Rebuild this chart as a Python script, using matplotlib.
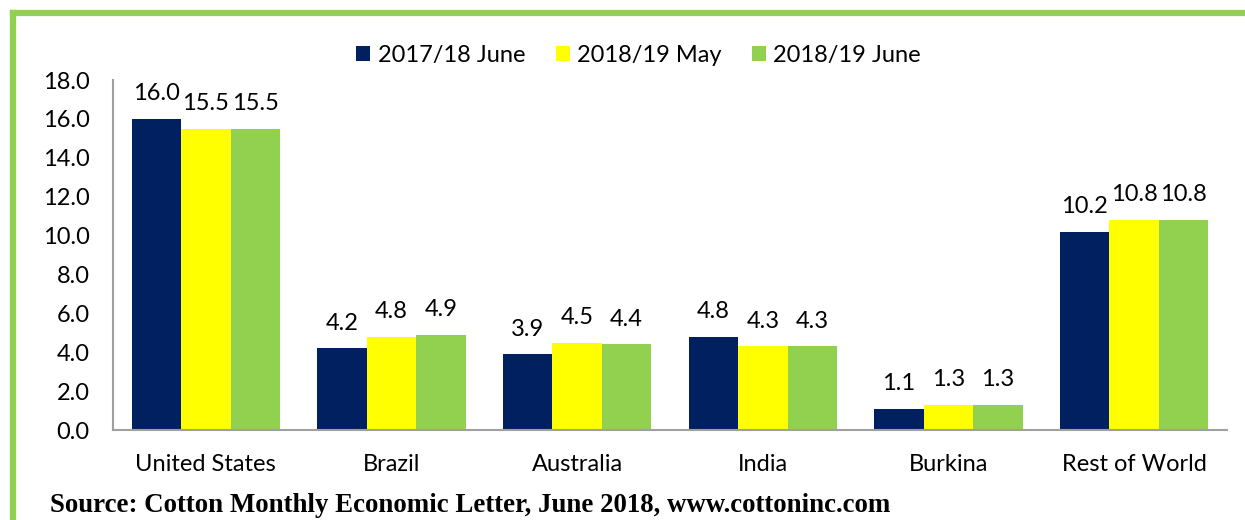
import matplotlib
matplotlib.use("Agg")
import matplotlib.pyplot as plt
import numpy as np
from matplotlib.lines import Line2D

categories = ["United States", "Brazil", "Australia", "India", "Burkina", "Rest of World"]
series_names = ["2017/18 June", "2018/19 May", "2018/19 June"]
v_1718_june = [16.0, 4.2, 3.9, 4.8, 1.1, 10.2]
v_1819_may = [15.5, 4.8, 4.5, 4.3, 1.3, 10.8]
v_1819_june = [15.5, 4.9, 4.4, 4.3, 1.3, 10.8]
yticks = [0, 2, 4, 6, 8, 10, 12, 14, 16, 18]
colors = ["#002060", "#FFFF00", "#92D050"]

plt.rcParams['font.family'] = ['Lato', 'DejaVu Sans']

fig = plt.figure(figsize=(12.45, 5.2), dpi=100)
ax = fig.add_axes([0.0908, 0.173, 0.8947, 0.673])

x = np.arange(len(categories))
w = 0.8 / 3
data = [v_1718_june, v_1819_may, v_1819_june]
for i, (vals, c, name) in enumerate(zip(data, colors, series_names)):
    bars = ax.bar(x + (i - 1) * w, vals, w, color=c, label=name, zorder=2)
    for b, v in zip(bars, vals):
        ax.text(b.get_x() + b.get_width() / 2, v + 0.75, f"{v:.1f}",
                ha="center", va="bottom", fontsize=17, color="black")

ax.set_xlim(-0.5, len(categories) - 0.5)
ax.set_ylim(0, 18)
ax.set_yticks(yticks)
ax.set_yticklabels([f"{t:.1f}" for t in yticks], fontsize=17)
ax.set_xticks(x)
ax.set_xticklabels(categories, fontsize=17)
ax.tick_params(axis="both", length=0)
ax.tick_params(axis="x", pad=17)
ax.tick_params(axis="y", pad=17)
for s in ["top", "right"]:
    ax.spines[s].set_visible(False)
for s in ["left", "bottom"]:
    ax.spines[s].set_color("#A0A0A0")
    ax.spines[s].set_linewidth(1.5)

ax.legend(loc="center", bbox_to_anchor=(0.513, 0.894), bbox_transform=fig.transFigure,
          ncol=3, frameon=False, fontsize=17, handlelength=0.6, handleheight=0.6,
          handletextpad=0.3, columnspacing=1.3)

# green frame
fig.add_artist(Line2D([13 / 1245, 13 / 1245], [0, 1 - 13 / 520], color="#92D050",
                      lw=4.5, transform=fig.transFigure, solid_capstyle="projecting"))
fig.add_artist(Line2D([13 / 1245, 1], [1 - 13 / 520, 1 - 13 / 520], color="#92D050",
                      lw=4.5, transform=fig.transFigure, solid_capstyle="projecting"))

fig.text(50 / 1245, 1 - 506 / 520, "Source: Cotton Monthly Economic Letter, June 2018, www.cottoninc.com",
         fontfamily="Liberation Serif", fontweight="bold", fontsize=19.4, va="center", ha="left")

fig.savefig("out.png", dpi=100)
